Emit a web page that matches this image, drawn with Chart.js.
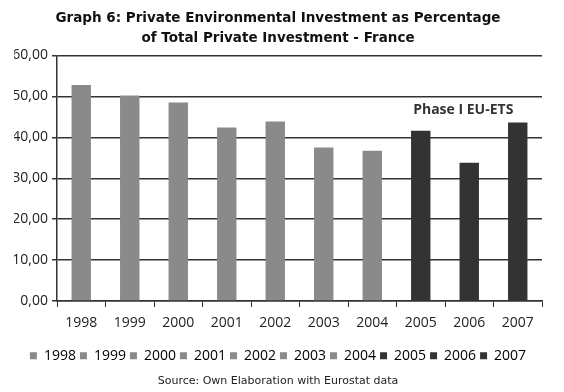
<!DOCTYPE html>
<html>
<head>
<meta charset="utf-8">
<script src="https://cdn.jsdelivr.net/npm/chart.js@4"></script>
<style>
  html, body { margin: 0; padding: 0; background: #fff; }
  #wrap { width: 564px; height: 392px; }
</style>
</head>
<body>
<div id="wrap"><canvas id="investChart"></canvas></div>
<script>
var years = ['1998', '1999', '2000', '2001', '2002', '2003', '2004', '2005', '2006', '2007'];
var shares = [52.8, 50.2, 48.5, 42.4, 43.9, 37.5, 36.7, 41.6, 33.8, 43.6];
var phase = ['pre', 'pre', 'pre', 'pre', 'pre', 'pre', 'pre', 'ets', 'ets', 'ets'];
var phaseColors = { pre: '#8a8a8a', ets: '#333333' };
var yTicks = [0, 10, 20, 30, 40, 50, 60];

var barColors = phase.map(function (p) { return phaseColors[p]; });

// text over the last three bars
var phaseLabel = {
    id: 'phaseLabel',
    afterDatasetsDraw: function (chart) {
        var x = chart.scales.x, y = chart.scales.y;
        var ctx = chart.ctx;
        ctx.save();
        ctx.font = 'bold 14px "Open Sans", sans-serif';
        ctx.fillStyle = '#333';
        ctx.textAlign = 'center';
        ctx.textBaseline = 'middle';
        ctx.fillText('Phase I EU-ETS', x.getPixelForValue(8) - 6, y.getPixelForValue(46.6));
        ctx.restore();
    }
};

var ctx = document.getElementById('investChart').getContext('2d');

var investChart = new Chart(ctx, {
    type: 'bar',
    data: {
        labels: years,
        datasets: [{
            label: 'Share',
            data: shares,
            backgroundColor: barColors,
            barPercentage: 0.8,
            categoryPercentage: 0.5
        }]
    },
    options: {
        responsive: true,
        maintainAspectRatio: false,
        animation: false,
        layout: {
            padding: { left: 14, right: 22, top: 0, bottom: 2 }
        },
        scales: {
            y: {
                min: 0,
                max: 60,
                afterBuildTicks: function (axis) {
                    axis.ticks = yTicks.map(function (v) { return { value: v }; });
                },
                afterFit: function (axis) { axis.width = 43; },
                ticks: {
                    color: '#222',
                    font: { family: '"Open Sans", sans-serif', size: 14 },
                    padding: 4,
                    callback: function (v) { return v.toFixed(2).replace('.', ','); }
                },
                grid: { color: '#333', lineWidth: 1.5, tickLength: 5 },
                border: { color: '#333', width: 1.5 }
            },
            x: {
                afterFit: function (axis) { axis.height += 5; },
                ticks: {
                    color: '#222',
                    font: { family: '"Open Sans", sans-serif', size: 14 },
                    padding: 8
                },
                grid: { offset: true, drawOnChartArea: false, color: '#333', tickLength: 6 },
                border: { color: '#333', width: 1.5 }
            }
        },
        plugins: {
            title: {
                display: true,
                text: ['Graph 6: Private Environmental Investment as Percentage', 'of Total Private Investment - France'],
                color: '#111',
                font: { family: '"DejaVu Sans", sans-serif', size: 13.5, weight: 'bold', lineHeight: 1.5 },
                padding: { top: 8, bottom: 7 }
            },
            legend: {
                position: 'bottom',
                labels: {
                    color: '#222',
                    font: { family: '"Open Sans", sans-serif', size: 14 },
                    boxWidth: 7,
                    boxHeight: 7,
                    padding: 4,
                    generateLabels: function () {
                        return years.map(function (yr, i) {
                            return { text: yr, fillStyle: barColors[i], strokeStyle: barColors[i], lineWidth: 0, index: i };
                        });
                    }
                }
            },
            subtitle: {
                display: true,
                position: 'bottom',
                text: 'Source: Own Elaboration with Eurostat data',
                color: '#222',
                font: { family: '"DejaVu Sans", sans-serif', size: 11 },
                padding: { top: 2, bottom: 2 }
            },
            tooltip: { enabled: false }
        }
    },
    plugins: [phaseLabel]
});
</script>
</body>
</html>
